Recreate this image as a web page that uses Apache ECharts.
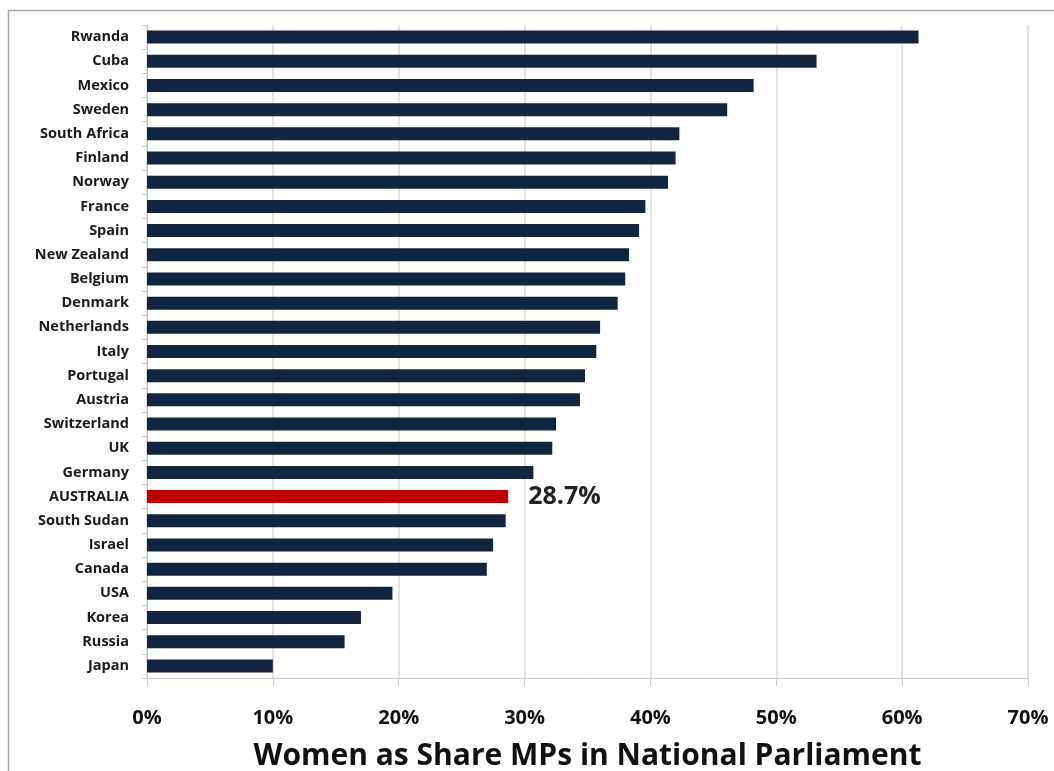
<!DOCTYPE html>
<html lang="en">
<head>
<meta charset="UTF-8" />
<script src="https://cdn.jsdelivr.net/npm/echarts@6/dist/echarts.min.js"></script>
<style>
html,body{margin:0;padding:0;background:#fff;}
#main{width:1054px;height:771px;}
</style>
</head>
<body>
<div id="main"></div>
<script type="text/javascript">
// countries, top to bottom
var countries = ['Rwanda','Cuba','Mexico','Sweden','South Africa','Finland','Norway','France','Spain','New Zealand',
	'Belgium','Denmark','Netherlands','Italy','Portugal','Austria','Switzerland','UK','Germany','AUSTRALIA',
	'South Sudan','Israel','Canada','USA','Korea','Russia','Japan'];
// share of women MPs (%)
var shares = [61.3,53.2,48.2,46.1,42.3,42.0,41.4,39.6,39.1,38.3,
	38.0,37.4,36.0,35.7,34.8,34.4,32.5,32.2,30.7,28.7,
	28.5,27.5,27.0,19.5,17.0,15.7,10.0];
var highlight = 'AUSTRALIA';
var xTicks = [0,10,20,30,40,50,60,70];

var navy = '#13243f';
var red = '#c00000';
var fontF = '"Open Sans", sans-serif';

var barData = [];
for(var i=0;i<countries.length;i++){
	if(countries[i]==highlight){
		barData.push({
			value: shares[i],
			itemStyle:{color:red},
			label:{show:true,position:'right',distance:20,formatter:'{c}%',
				fontSize:25,fontWeight:'bold',color:'#222',fontFamily:fontF}
		});
	}else{
		barData.push(shares[i]);
	}
}

var myChart = echarts.init(document.getElementById('main'));
myChart.setOption({
	animation:false,
	backgroundColor:'#fff',
	graphic:[{
		type:'rect',
		shape:{x:8.5,y:10.5,width:1060,height:800},
		style:{fill:'none',stroke:'#a6a6a6',lineWidth:1.5}
	}],
	grid:{left:147,right:26,top:25,bottom:93,containLabel:false,outerBoundsMode:'none'},
	xAxis:{
		type:'value',
		min:xTicks[0],max:xTicks[xTicks.length-1],interval:10,
		name:'Women as Share MPs in National Parliament',
		nameLocation:'middle',nameGap:63,
		nameTextStyle:{fontSize:30,fontWeight:'bold',color:'#111',fontFamily:fontF},
		axisLine:{show:true,lineStyle:{color:'#c8c8c8'}},
		axisTick:{show:true,length:8,lineStyle:{color:'#c8c8c8'}},
		axisLabel:{formatter:'{value}%',fontSize:20,fontWeight:'bold',color:'#111',margin:30,fontFamily:fontF},
		splitLine:{show:true,lineStyle:{color:'#d9d9d9',width:1.5}}
	},
	yAxis:{
		type:'category',
		data:countries,
		inverse:true,
		axisLine:{show:true,lineStyle:{color:'#c8c8c8'}},
		axisTick:{show:true,length:5,lineStyle:{color:'#c8c8c8'}},
		axisLabel:{fontSize:14.5,fontWeight:'bold',color:'#1a1a1a',margin:18,fontFamily:fontF},
		splitLine:{show:false}
	},
	series:[{
		type:'bar',
		data:barData,
		barWidth:13,
		itemStyle:{color:navy},
		silent:true
	}]
});
</script>
</body>
</html>
